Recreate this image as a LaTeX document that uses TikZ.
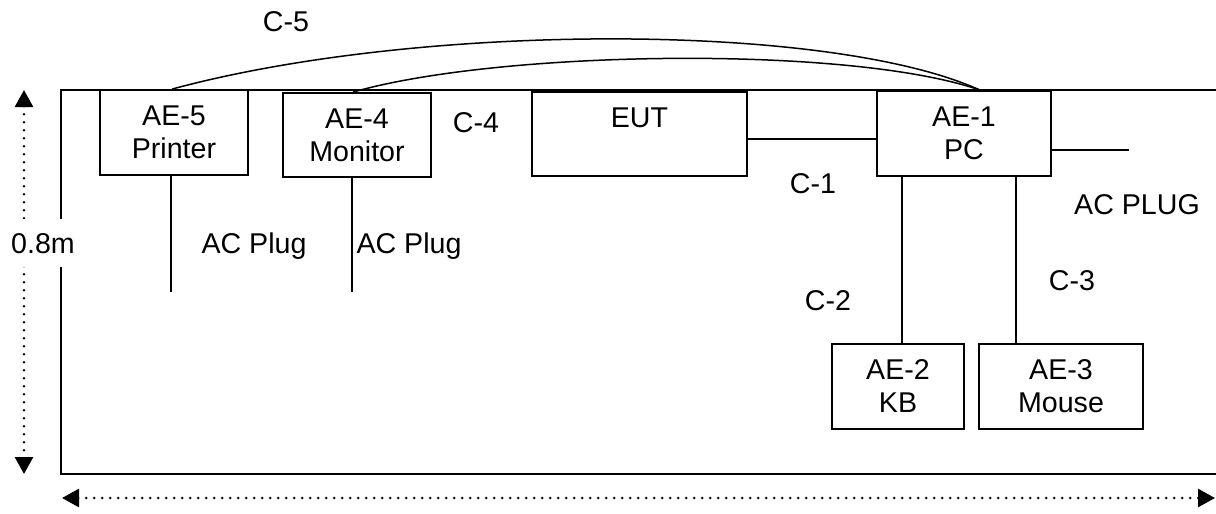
\documentclass[tikz,border=0pt]{standalone}
\usepackage{fontspec}
\setmainfont{Liberation Sans}
\usetikzlibrary{arrows.meta}
\begin{document}
\begin{tikzpicture}[x=0.5pt, y=-0.5pt, >={Triangle[width=9pt,length=8.5pt]},
    box/.style={draw, line width=0.9pt, align=center, inner sep=0pt, font=\fontsize{14.3}{16.5}\selectfont},
    lbl/.style={anchor=base, inner sep=0pt, font=\fontsize{14.3}{16.5}\selectfont},
    wire/.style={line width=0.75pt},
    dim/.style={dash pattern=on 0pt off 4pt, line cap=round, line width=1.4pt}]
    \useasboundingbox (0,0) rectangle (1216,514);

    % table outline
    \draw[line width=1.1pt] (1216,90) -- (61,90) -- (61,474) -- (1216,474);

    % units
    \node[box, minimum width=74pt, minimum height=42.5pt] (ae5) at (174,132.5) {AE-5\\Printer};
    \node[box, minimum width=74pt, minimum height=42pt] (ae4) at (357,135) {AE-4\\Monitor};
    \node[box, minimum width=107.5pt, minimum height=42pt] (eut) at (639.5,134) {EUT\\~};
    \node[box, minimum width=87pt, minimum height=42.5pt] (ae1) at (964,133.5) {AE-1\\PC};
    \node[box, minimum width=66pt, minimum height=42.5pt] (ae2) at (898,386.5) {AE-2\\KB};
    \node[box, minimum width=82pt, minimum height=42.5pt] (ae3) at (1061,386.5) {AE-3\\Mouse};

    % free cable ends
    \coordinate (plug5) at (171,292);
    \coordinate (plug4) at (352,292);
    \coordinate (plug1) at (1129,150);

    % cables
    \draw[wire] (plug5 |- ae5.south) -- (plug5);
    \draw[wire] (plug4 |- ae4.south) -- (plug4);
    \draw[wire] ([yshift=-2.5pt]eut.east) -- ([yshift=-2.5pt]eut.east -| ae1.west);
    \draw[wire] (ae1.east |- plug1) -- (plug1);
    \draw[wire] ([xshift=2pt]ae2.north) -- ([xshift=2pt]ae2.north |- ae1.south);
    \draw[wire] ([xshift=-22.5pt]ae3.north) -- ([xshift=-22.5pt]ae3.north |- ae1.south);
    \draw[wire] ([xshift=-1pt]ae5.north) .. controls (420,22) and (830,22) .. ([xshift=8pt]ae1.north);
    \draw[wire] ([xshift=-2pt]ae4.north) .. controls (500,50) and (850,45) .. ([xshift=8pt]ae1.north);

    % cable labels
    \node[lbl] (c5) at (286,32) {C-5};
    \node[lbl] (c4) at (476,132) {C-4};
    \node[lbl] (c1) at (813,193) {C-1};
    \node[lbl] (acpc) at (1137,214) {AC PLUG};
    \node[lbl] (ac5) at (254,253) {AC Plug};
    \node[lbl] (ac4) at (409,253) {AC Plug};
    \node[lbl] (c2) at (828,310) {C-2};
    \node[lbl] (c3) at (1072,290) {C-3};

    % dimensions
    \coordinate (htop) at (24,90);
    \coordinate (hbot) at (24,474);
    \coordinate (wleft) at (62,498);
    \coordinate (wright) at (1215,498);
    \draw[dim, <->] (htop) -- (hbot);
    \draw[dim, <->] (wleft) -- (wright);
    \node[lbl, fill=white, inner ysep=7pt] (height) at (43,253) {0.8m};
\end{tikzpicture}
\end{document}
